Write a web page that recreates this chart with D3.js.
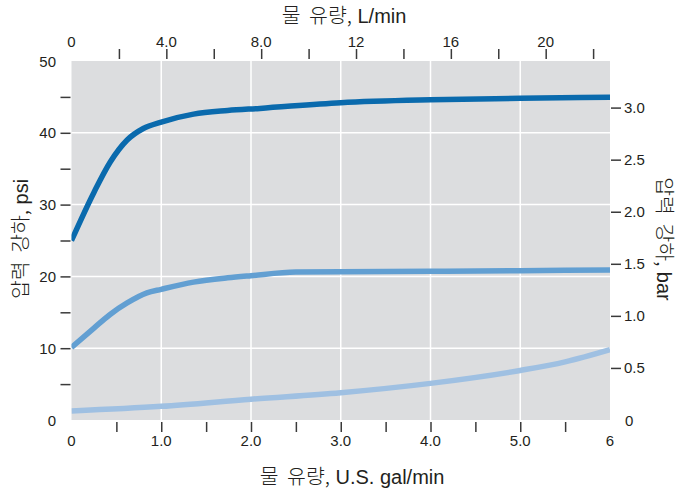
<!DOCTYPE html>
<html><head><meta charset="utf-8">
<script src="https://cdn.jsdelivr.net/npm/d3@7"></script>
<style>
body{margin:0;background:#fff;}
text{font-family:"Liberation Sans","Noto Sans CJK KR",Arial,sans-serif;fill:#231f20;}
.ko{font-family:"Noto Sans CJK KR","Liberation Sans",sans-serif;font-weight:300;}
</style></head>
<body><svg id="c" width="687" height="493"></svg>
<script>
// ---- data (psi vs U.S. gal/min) ----
const s1Gpm = [0, 0.25, 0.43, 0.62, 0.8, 1.0, 1.36, 1.74, 2.1, 3.0, 4.0, 5.0, 6.0];
const s1Psi = [25.0, 31.7, 35.9, 39.0, 40.6, 41.5, 42.6, 43.1, 43.4, 44.2, 44.6, 44.8, 44.95];
const s2Gpm = [0, 0.25, 0.43, 0.62, 0.84, 1.0, 1.36, 1.74, 2.0, 2.5, 3.0, 4.0, 5.0, 6.0];
const s2Psi = [10.1, 12.8, 14.7, 16.3, 17.7, 18.2, 19.2, 19.8, 20.1, 20.6, 20.65, 20.7, 20.8, 20.9];
const s3Gpm = [0, 1, 2, 3, 4, 5, 5.5, 6];
const s3Psi = [1.26, 1.9, 2.9, 3.8, 5.1, 6.9, 8.1, 9.8];
const seriesColors = ["#0a6aad", "#629fd2", "#9fc0e2"];

const gpmLabels = [0, 1, 2, 3, 4, 5, 6];
const gpmTicks = [0.5, 1, 1.5, 2, 2.5, 3, 3.5, 4, 4.5, 5, 5.5];
const lpmLabels = [0, 4, 8, 12, 16, 20];
const lpmTicks = [2, 4, 6, 8, 10, 12, 14, 16, 18, 20, 22];
const psiLabels = [0, 10, 20, 30, 40, 50];
const psiTicks = [5, 10, 15, 20, 25, 30, 35, 40, 45];
const barLabels = [0, 0.5, 1.0, 1.5, 2.0, 2.5, 3.0];
const barTicks = [0.5, 1.0, 1.5, 2.0, 2.5, 3.0];
const gridGpm = [1, 2, 3, 4, 5];
const gridPsi = [10, 20, 30, 40];

const L_PER_GAL = 3.785411784, PSI_PER_BAR = 14.5037738;

// ---- layout ----
const X0 = 71.5, X1 = 610, Y0 = 61, Y1 = 420;
const svg = d3.select("#c");
const x = d3.scaleLinear().domain([0, 6]).range([X0, X1]);
const xL = d3.scaleLinear().domain([0, 6 * L_PER_GAL]).range([X0, X1]);
const y = d3.scaleLinear().domain([0, 50]).range([Y1, Y0]);
const yB = d3.scaleLinear().domain([0, 50 / PSI_PER_BAR]).range([Y1, Y0]);

svg.append("rect").attr("x", X0).attr("y", Y0).attr("width", X1 - X0).attr("height", Y1 - Y0).attr("fill", "#dcdddf");

const g = svg.append("g");
g.selectAll(".gv").data(gridGpm).join("line")
  .attr("x1", d => x(d)).attr("x2", d => x(d)).attr("y1", Y0).attr("y2", Y1)
  .attr("stroke", "#fff").attr("stroke-width", 1.5);
g.selectAll(".gh").data(gridPsi).join("line")
  .attr("y1", d => y(d)).attr("y2", d => y(d)).attr("x1", X0).attr("x2", X1)
  .attr("stroke", "#fff").attr("stroke-width", 1.5);

// ---- curves ----
const line = d3.line().x(d => x(d[0])).y(d => y(d[1])).curve(d3.curveMonotoneX);
const series = [[s1Gpm, s1Psi], [s2Gpm, s2Psi], [s3Gpm, s3Psi]];
svg.append("clipPath").attr("id", "pc").append("rect")
  .attr("x", X0).attr("y", Y0).attr("width", X1 - X0).attr("height", Y1 - Y0);
series.slice().reverse().forEach((s, i) => {
  const idx = series.length - 1 - i;
  svg.append("path").datum(s[0].map((v, k) => [v, s[1][k]]))
    .attr("d", line).attr("fill", "none").attr("stroke", seriesColors[idx])
    .attr("stroke-width", 5.5).attr("clip-path", "url(#pc)");
});

// ---- axes ----
const tickColor = "#3a3a3a";
// bottom
svg.append("g").attr("transform", `translate(0,${Y1 + 2})`)
  .call(d3.axisBottom(x).tickValues(gpmTicks).tickSize(10).tickFormat(""))
  .call(a => { a.select(".domain").remove(); a.selectAll("line").attr("stroke", tickColor).attr("stroke-width", 1.5); });
svg.append("g").selectAll("text").data(gpmLabels).join("text")
  .attr("x", d => x(d)).attr("y", 446).attr("text-anchor", "middle").attr("font-size", 15)
  .text(d => (d === 0 || d === 6) ? String(d) : d.toFixed(1));
// top
svg.append("g").attr("transform", `translate(0,${Y0 - 2})`)
  .call(d3.axisTop(xL).tickValues(lpmTicks).tickSize(10).tickFormat(""))
  .call(a => { a.select(".domain").remove(); a.selectAll("line").attr("stroke", tickColor).attr("stroke-width", 1.5); });
svg.append("g").selectAll("text").data(lpmLabels).join("text")
  .attr("x", d => xL(d)).attr("y", 47).attr("text-anchor", "middle").attr("font-size", 15)
  .text(d => (d === 0 || d >= 10) ? String(d) : d.toFixed(1));
// left
svg.append("g").attr("transform", `translate(${X0 - 1},0)`)
  .call(d3.axisLeft(y).tickValues(psiTicks).tickSize(10).tickFormat(""))
  .call(a => { a.select(".domain").remove(); a.selectAll("line").attr("stroke", tickColor).attr("stroke-width", 1.5); });
svg.append("g").selectAll("text").data(psiLabels).join("text")
  .attr("x", 56).attr("y", d => y(d) + 5.5).attr("text-anchor", "end").attr("font-size", 15)
  .text(d => String(d));
// right
svg.append("g").attr("transform", `translate(${X1 + 1},0)`)
  .call(d3.axisRight(yB).tickValues(barTicks).tickSize(10).tickFormat(""))
  .call(a => { a.select(".domain").remove(); a.selectAll("line").attr("stroke", tickColor).attr("stroke-width", 1.5); });
svg.append("g").selectAll("text").data(barLabels).join("text")
  .attr("x", d => d === 0 ? 625 : 624).attr("y", d => yB(d) + 5.5).attr("text-anchor", "start").attr("font-size", 15)
  .text(d => d === 0 ? "0" : d.toFixed(1));

// ---- titles ----
function title(sel, ko, latin) {
  sel.attr("text-anchor", "middle").attr("font-size", 20);
  sel.append("tspan").attr("class", "ko").attr("font-size", 20.5).attr("word-spacing", 4).text(ko);
  sel.append("tspan").attr("font-size", 20).text(latin);
}
title(svg.append("text").attr("x", 344).attr("y", 23), "물 유량,", " L/min");
title(svg.append("text").attr("x", 352).attr("y", 484), "물 유량,", " U.S. gal/min");
title(svg.append("text").attr("transform", "translate(28,239) rotate(-90)"), "압력 강하,", " psi");
title(svg.append("text").attr("transform", "translate(657,239) rotate(90)"), "압력 강하,", " bar");
</script></body></html>
